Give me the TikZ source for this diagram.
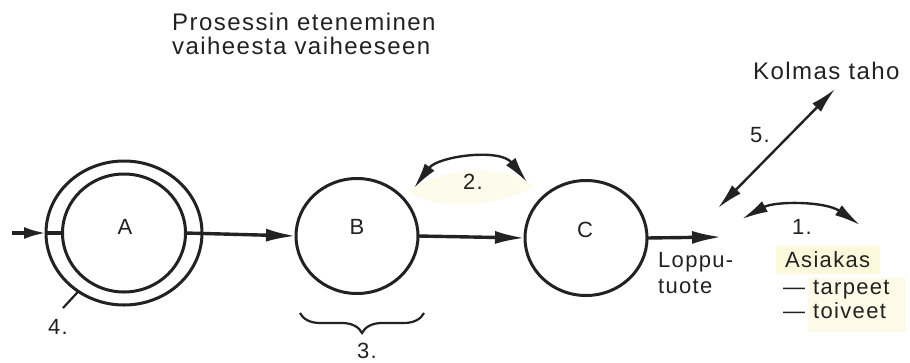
\documentclass[tikz,border=0pt]{standalone}
\usepackage{fontspec}
\setmainfont{Liberation Sans}[LetterSpace=6]
\usetikzlibrary{arrows.meta,shapes.geometric,decorations.pathreplacing}
\definecolor{ink}{HTML}{222222}
\definecolor{hl}{HTML}{FCF8DC}
\begin{document}
\begin{tikzpicture}[x=1pt,y=-1pt,
  bigtip/.tip={Latex[length=30pt,width=13pt]},
  midtip/.tip={Latex[length=26pt,width=12pt]},
  smalltip/.tip={Latex[length=22pt,width=12pt]},
  circ/.style={ellipse,draw=ink,line width=3pt,inner sep=0pt,outer sep=0pt},
  flow/.style={draw=ink,line width=3.4pt,-bigtip},
  plainline/.style={draw=ink,line width=3.4pt},
  thinline/.style={draw=ink,line width=2.2pt},
  dbl/.style={draw=ink,line width=2.4pt,midtip-midtip},
  txt/.style={inner sep=0pt,text=ink,font=\fontsize{22}{24}\selectfont},
  big/.style={inner sep=0pt,text=ink,font=\fontsize{24}{24}\selectfont}]
\useasboundingbox (0,0) rectangle (910,362);
\fill[white] (0,0) rectangle (910,362);
% highlighter marks
\fill[hl] (776,246) rectangle (880,274);
\fill[hl!70] (808,278) rectangle (906,332);
\fill[hl!55] (408,192) .. controls (440,166) and (505,164) .. (534,186) .. controls (500,206) and (440,212) .. cycle;
% title
\node[big,anchor=base west] (t1) at (172,30) {Prosessin eteneminen};
\node[big,anchor=base west] (t2) at (172,54) {vaiheesta vaiheeseen};
% circles
\node[circ,minimum width=156pt,minimum height=144pt] (Aout) at (124,233) {};
\node[circ,minimum width=123pt,minimum height=118pt] (A) at (124,233) {};
\node[txt] (Atext) at (125,227) {A};
\node[circ,minimum width=122pt,minimum height=115pt] (B) at (357,236) {};
\node[txt] (Btext) at (357,227) {B};
\node[circ,minimum width=122pt,minimum height=115pt] (C) at (586,238) {};
\node[txt] (Ctext) at (585,230) {C};
% flow
\coordinate (in) at (12,233);
\draw[draw=ink,line width=3.4pt,-smalltip] (in) -- (Aout.west);
\draw[plainline] (Aout.west) -- (A.west);
\draw[flow] (A.east) -- (B.west);
\draw[flow] (B.east) -- (C.west);
\coordinate (out) at (722,237);
\draw[flow] (C.east) -- (out);
% arc 2
\coordinate (a2s) at (414,188);
\coordinate (a2e) at (527,182);
\draw[dbl] (a2s) .. controls (438,156) and (500,148) .. (a2e);
\node[txt] (n2) at (473,182) {2.};
% arrow 5
\coordinate (k5a) at (718,208);
\coordinate (k5b) at (835,89);
\draw[dbl] (k5a) -- (k5b);
\node[txt] (n5) at (760,135) {5.};
\node[big,anchor=base west] (kol) at (753,79) {Kolmas taho};
% arc 1
\coordinate (a1s) at (742,219);
\coordinate (a1e) at (860,225);
\draw[dbl] (a1s) .. controls (775,201) and (825,201) .. (a1e);
\node[txt] (n1) at (802,227) {1.};
% texts
\node[txt,anchor=base west] (lp1) at (658,267) {Loppu-};
\node[txt,anchor=base west] (lp2) at (658,293) {tuote};
\node[txt,anchor=base west] (as1) at (785,267) {Asiakas};
\node[txt,anchor=base west] (as2) at (783,294) {—\hspace{8pt}tarpeet};
\node[txt,anchor=base west] (as3) at (783,318) {—\hspace{8pt}toiveet};
% brace 3
\draw[thinline,decorate,decoration={brace,mirror,amplitude=20pt}] (300,313) -- (424,313);
\node[txt] (n3) at (367,351) {3.};
% label 4
\coordinate (l4) at (63,308);
\draw[thinline] (Aout.232) -- (l4);
\node[txt] (n4) at (58,327) {4.};
\end{tikzpicture}
\end{document}
